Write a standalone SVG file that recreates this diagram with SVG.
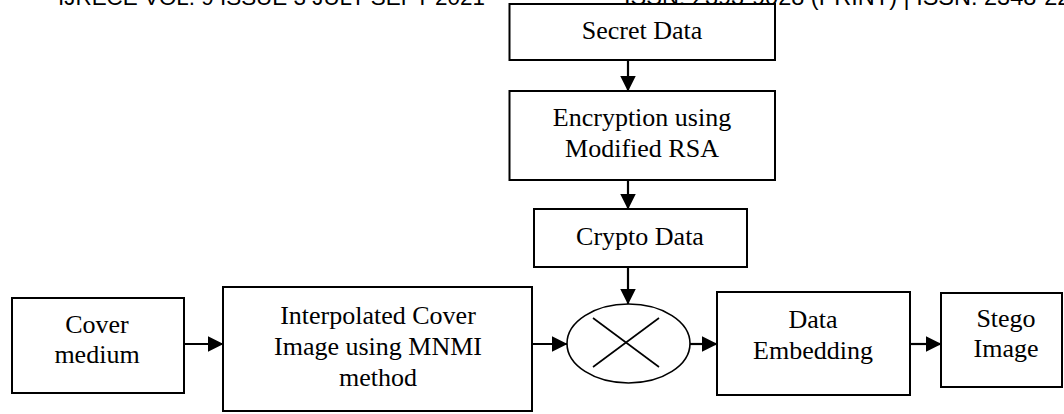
<svg xmlns="http://www.w3.org/2000/svg" width="1064" height="414" viewBox="0 0 1064 414">
<style>
.box{fill:#fff;stroke:#000;stroke-width:2}
.lbl{font-family:"Liberation Serif","Times New Roman",serif;font-size:26px;fill:#000;text-anchor:middle}
.hdr{font-family:"Liberation Sans",Arial,sans-serif;font-size:22px;fill:#000}
.con{stroke:#000;stroke-width:2.2;fill:none}
.thin{stroke:#000;stroke-width:1.6;fill:none}
</style>
<defs>
<marker id="ah" markerUnits="userSpaceOnUse" markerWidth="16" markerHeight="16" viewBox="0 0 16 16" refX="15.5" refY="8" orient="auto">
<path d="M0,0 L16,8 L0,16 z" fill="#000"/>
</marker>
</defs>
<rect width="1064" height="414" fill="#fff"/>
<g id="header">
<text class="hdr" x="58" y="4.5" textLength="427" lengthAdjust="spacingAndGlyphs">IJRECE VOL. 9 ISSUE 3 JULY-SEPT 2021</text>
<text class="hdr" x="624" y="4.5" style="font-size:23.5px">ISSN: 2393-9028 (PRINT) | ISSN: 2348-2281 (ONLINE)</text>
</g>
<g id="connectors">
<line class="con" x1="628" y1="60" x2="628" y2="91" marker-end="url(#ah)"/>
<line class="con" x1="628" y1="180" x2="628" y2="209" marker-end="url(#ah)"/>
<line class="con" x1="628" y1="267" x2="628" y2="304" marker-end="url(#ah)"/>
<line class="con" x1="184" y1="344" x2="223" y2="344" marker-end="url(#ah)"/>
<line class="con" x1="532" y1="344" x2="567" y2="344" marker-end="url(#ah)"/>
<line class="con" x1="690" y1="344" x2="717" y2="344" marker-end="url(#ah)"/>
<line class="con" x1="910" y1="344" x2="941" y2="344" marker-end="url(#ah)"/>
</g>
<g id="secret-data">
<rect class="box" x="509.5" y="4" width="265.5" height="56"/>
<text class="lbl" x="642" y="39">Secret Data</text>
</g>
<g id="encryption">
<rect class="box" x="509.5" y="91" width="265.5" height="89"/>
<text class="lbl" x="642" y="126">Encryption using</text>
<text class="lbl" x="642" y="157">Modified RSA</text>
</g>
<g id="crypto-data">
<rect class="box" x="534" y="209" width="213" height="58"/>
<text class="lbl" x="640" y="245">Crypto Data</text>
</g>
<g id="combiner">
<ellipse class="thin" cx="628.5" cy="343.5" rx="61.5" ry="39.5" fill="#fff"/>
<line class="thin" x1="593" y1="318" x2="659" y2="367"/>
<line class="thin" x1="659" y1="318" x2="593" y2="367"/>
</g>
<g id="cover-medium">
<rect class="box" x="12" y="298" width="172" height="95"/>
<text class="lbl" x="97" y="333">Cover</text>
<text class="lbl" x="97" y="363">medium</text>
</g>
<g id="interpolated">
<rect class="box" x="223" y="287" width="309" height="124"/>
<text class="lbl" x="378" y="324">Interpolated Cover</text>
<text class="lbl" x="378" y="355">Image using MNMI</text>
<text class="lbl" x="378" y="386">method</text>
</g>
<g id="data-embedding">
<rect class="box" x="717" y="292" width="193" height="103"/>
<text class="lbl" x="813" y="328">Data</text>
<text class="lbl" x="813" y="359">Embedding</text>
</g>
<g id="stego-image">
<rect class="box" x="941" y="293" width="121" height="94"/>
<text class="lbl" x="1006" y="327">Stego</text>
<text class="lbl" x="1006" y="357">Image</text>
</g>
</svg>
